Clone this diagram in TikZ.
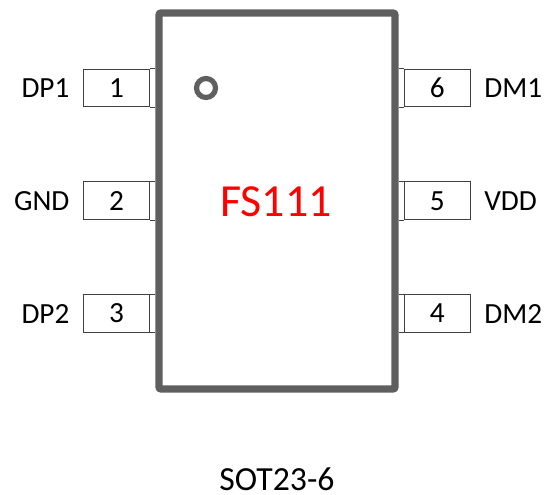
\documentclass[tikz,border=0pt]{standalone}
\usepackage{fontspec}
\setmainfont{Carlito}
\usepackage{tikz}
\usetikzlibrary{positioning}
\definecolor{bodygray}{HTML}{5F5F5F}
\definecolor{pinline}{HTML}{404040}
\tikzset{chip/.style = {draw = bodygray, line width = 1.8mm, rounded corners = 0.5mm, inner sep = 0, minimum width = 5.9cm, minimum height = 9.4cm}}
\tikzset{pinbox/.style = {draw = pinline, line width = 0.25mm, inner sep = 0, minimum width = 1.66cm, minimum height = 0.94cm, font = \fontsize{20.8}{20.8}\selectfont}}
\tikzset{stub/.style = {draw = pinline, line width = 0.25mm}}
\tikzset{pinname/.style = {inner sep = 0, font = \fontsize{20.8}{20.8}\selectfont}}
\tikzset{dot/.style = {draw = bodygray, circle, line width = 1.3mm, inner sep = 0, minimum size = 0.475cm}}

\begin{document}
\begin{tikzpicture}
    \useasboundingbox (0, 0) rectangle (13.6, 12.35);

    \node [chip] (body) at (6.925, 7.325) {};
    \node [dot] (mark1) at (5.15, 10.15) {};
    \node [font = \fontsize{32.7}{32.7}\selectfont, text = red, inner sep = 0] (partname) at (6.9, 7.3) {FS111};
    \node [font = \fontsize{24}{24}\selectfont, inner sep = 0] (package) at (6.925, 0.38) {SOT23-6};

    % left side
    \node [pinbox] (pin1) at (2.915, 10.15) {1};
    \node [pinbox] (pin2) at (2.915, 7.33) {2};
    \node [pinbox] (pin3) at (2.915, 4.51) {3};
    % right side
    \node [pinbox] (pin6) at (10.93, 10.15) {6};
    \node [pinbox] (pin5) at (10.93, 7.33) {5};
    \node [pinbox] (pin4) at (10.93, 4.51) {4};

    \node [pinname, left = 0.33 of pin1] (name1) {DP1};
    \node [pinname, left = 0.33 of pin2] (name2) {GND};
    \node [pinname, left = 0.33 of pin3] (name3) {DP2};
    \node [pinname, right = 0.33 of pin6] (name6) {DM1};
    \node [pinname, right = 0.33 of pin5] (name5) {VDD};
    \node [pinname, right = 0.33 of pin4] (name4) {DM2};

    \draw [stub] (pin1.north east) -- (pin1.north east -| body.west) (pin1.south east) -- (pin1.south east -| body.west);
    \draw [stub] (pin2.north east) -- (pin2.north east -| body.west) (pin2.south east) -- (pin2.south east -| body.west);
    \draw [stub] (pin3.north east) -- (pin3.north east -| body.west) (pin3.south east) -- (pin3.south east -| body.west);
    \draw [stub] (pin6.north west) -- (pin6.north west -| body.east) (pin6.south west) -- (pin6.south west -| body.east);
    \draw [stub] (pin5.north west) -- (pin5.north west -| body.east) (pin5.south west) -- (pin5.south west -| body.east);
    \draw [stub] (pin4.north west) -- (pin4.north west -| body.east) (pin4.south west) -- (pin4.south west -| body.east);
\end{tikzpicture}
\end{document}
